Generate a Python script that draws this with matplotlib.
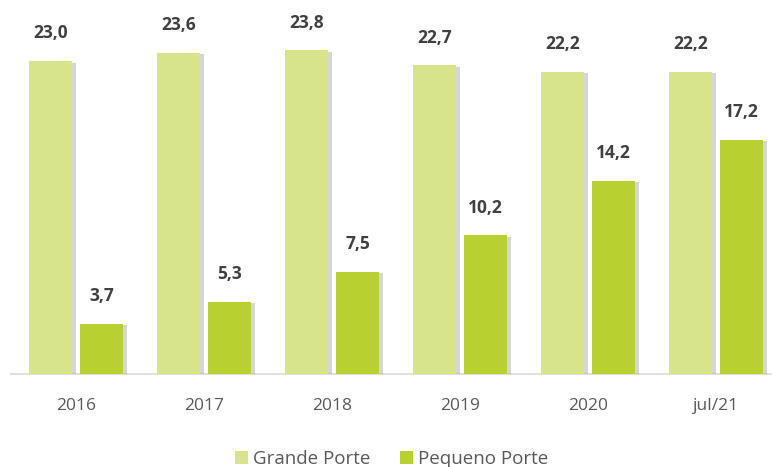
import numpy as np
import matplotlib.pyplot as plt
from matplotlib import patheffects as pe

# data
categories = ['2016', '2017', '2018', '2019', '2020', 'jul/21']
grande = [23.0, 23.6, 23.8, 22.7, 22.2, 22.2]
pequeno = [3.7, 5.3, 7.5, 10.2, 14.2, 17.2]
series_names = ['Grande Porte', 'Pequeno Porte']

COLOR_GRANDE = '#D7E48C'
COLOR_PEQUENO = '#B8D130'
TEXT_COLOR = '#404040'
TICK_COLOR = '#595959'

plt.rcParams['font.family'] = ['Open Sans', 'DejaVu Sans']

fig = plt.figure(figsize=(7.72, 4.67), dpi=100)
axis = fig.add_axes([11 / 772, 93 / 467, 1 - 11 / 772, 1 - 93 / 467])

x = np.arange(len(categories))
width = 0.336
offset = 0.199
shadow = [pe.SimplePatchShadow(offset=(3, -1), shadow_rgbFace='#9a9a9a', alpha=0.4),
          pe.Normal()]

bars_g = axis.bar(x - offset, grande, width, color=COLOR_GRANDE,
                  label=series_names[0], zorder=3)
bars_p = axis.bar(x + offset, pequeno, width, color=COLOR_PEQUENO,
                  label=series_names[1], zorder=3)
for bar in list(bars_g) + list(bars_p):
    bar.set_path_effects(shadow)

# value labels
for bars, vals in ((bars_g, grande), (bars_p, pequeno)):
    for bar, val in zip(bars, vals):
        axis.annotate(f'{val:.1f}'.replace('.', ','),
                      xy=(bar.get_x() + bar.get_width() / 2, val),
                      xytext=(0, 20), textcoords='offset points',
                      ha='center', va='center',
                      fontsize=12.5, fontweight='bold', color=TEXT_COLOR)

axis.set_xlim(-0.51, 5.44)
axis.set_ylim(0, 27.5)
axis.set_xticks(x)
axis.set_xticklabels(categories, fontsize=12.5, color=TICK_COLOR)
axis.tick_params(axis='x', length=0, pad=17)
axis.set_yticks([])
for side in ('top', 'right', 'left'):
    axis.spines[side].set_visible(False)
axis.spines['bottom'].set_color('#D9D9D9')
axis.spines['bottom'].set_linewidth(1.2)

leg = fig.legend(loc='center', bbox_to_anchor=(0.507, 8 / 467), ncol=2,
                 frameon=False, fontsize=13.5, handlelength=0.7,
                 handleheight=0.7, handletextpad=0.25, columnspacing=1.6,
                 borderaxespad=0)
for text in leg.get_texts():
    text.set_color(TICK_COLOR)
for handle in leg.legend_handles:
    handle.set_path_effects([pe.Normal()])

fig.savefig('out.png', dpi=100)
